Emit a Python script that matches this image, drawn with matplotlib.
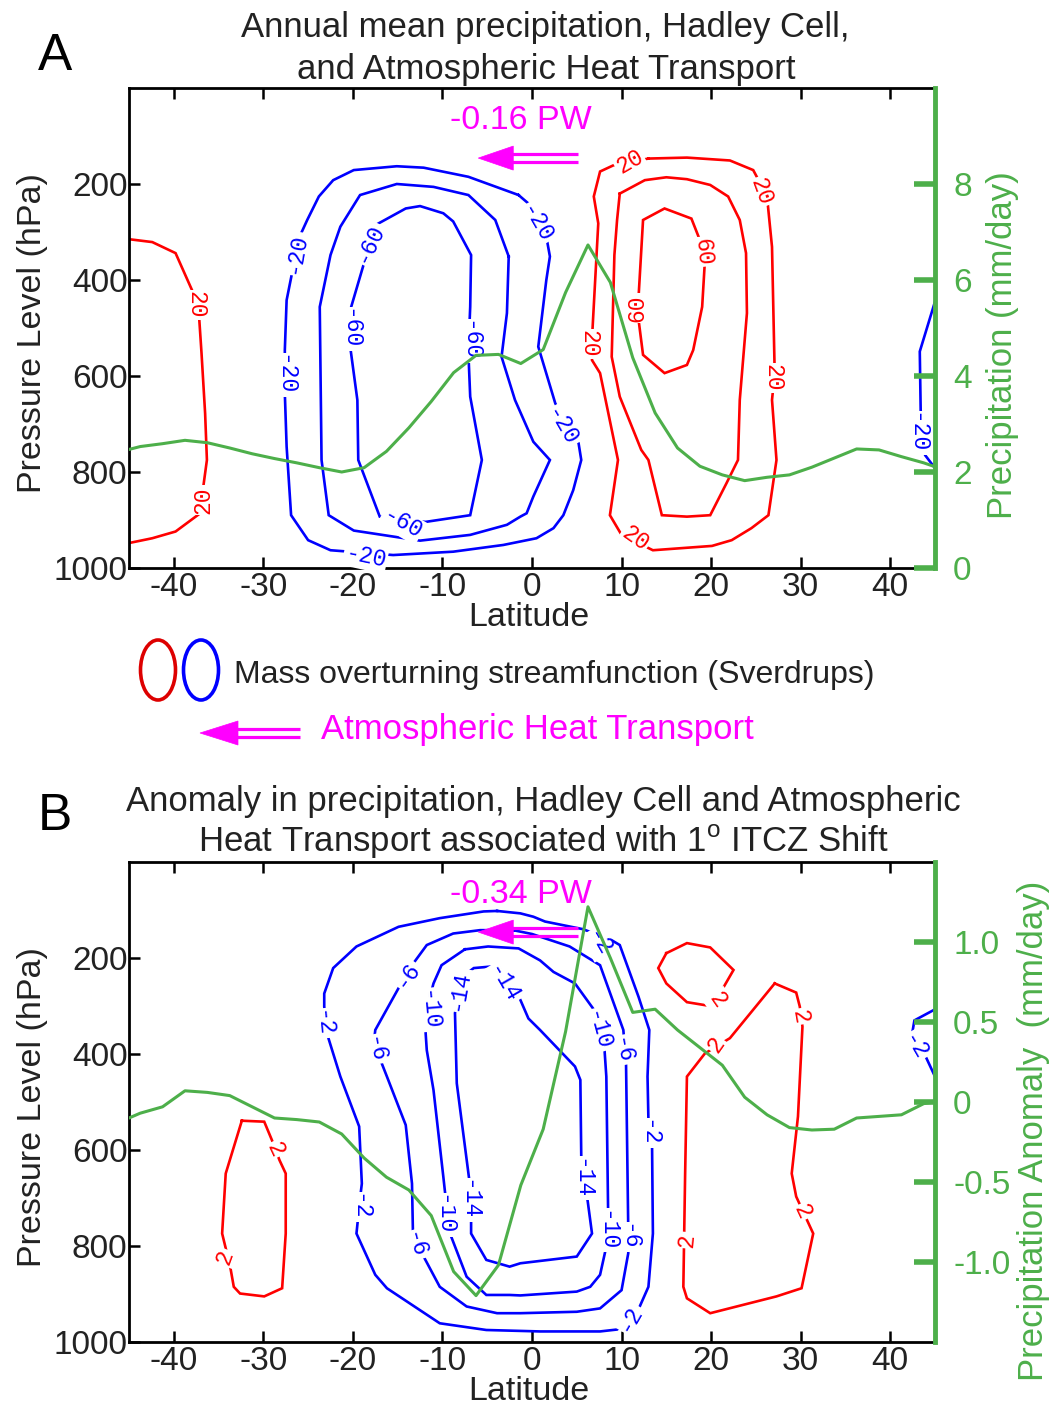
import matplotlib
matplotlib.use('Agg')
import matplotlib.pyplot as plt
import matplotlib.transforms as mtransforms
from matplotlib.patches import Ellipse, Polygon
from matplotlib.lines import Line2D

plt.rcParams['font.family'] = ['Liberation Sans', 'DejaVu Sans']
plt.rcParams['axes.unicode_minus'] = False
plt.rcParams['mathtext.fontset'] = 'custom'
plt.rcParams['mathtext.rm'] = 'Liberation Sans'

# ------------------------------------------------------------------ data
lat_pts = [-45, -43.75, -41.25, -38.75, -36.25, -33.75, -31.25, -28.75, -26.25, -23.75,
           -21.25, -18.75, -16.25, -13.75, -11.25, -8.75, -6.25, -3.75, -1.25, 1.25,
           3.75, 6.25, 8.75, 11.25, 13.75, 16.25, 18.75, 21.25, 23.75, 26.25,
           28.75, 31.25, 33.75, 36.25, 38.75, 41.25, 43.75, 45]
precip_mean = [2.47, 2.53, 2.59, 2.66, 2.61, 2.50, 2.38, 2.28, 2.19, 2.09,
               2.00, 2.09, 2.43, 2.92, 3.47, 4.07, 4.43, 4.45, 4.26, 4.55,
               5.74, 6.73, 5.95, 4.38, 3.23, 2.50, 2.12, 1.94, 1.82, 1.89,
               1.94, 2.10, 2.29, 2.48, 2.46, 2.32, 2.19, 2.11]
precip_anom = [-0.10, -0.07, -0.03, 0.07, 0.06, 0.04, -0.03, -0.10, -0.11, -0.125,
               -0.20, -0.35, -0.47, -0.55, -0.71, -1.06, -1.21, -1.02, -0.52, -0.17,
               0.44, 1.22, 0.90, 0.56, 0.58, 0.45, 0.34, 0.23, 0.03, -0.08,
               -0.16, -0.175, -0.17, -0.10, -0.09, -0.08, -0.01, 0.0]

lat_ticks = [-40, -30, -20, -10, 0, 10, 20, 30, 40]
p_ticks = [200, 400, 600, 800, 1000]
precip_ticks = [0, 2, 4, 6, 8]
anom_ticks = [-1.0, -0.5, 0, 0.5, 1.0]
anom_ticklabels = ['-1.0', '-0.5', '0', '0.5', '1.0']

# Panel A streamfunction contours (latitude, hPa)
A_r20w_lat = [-45.0, -42.4, -39.8, -37.8, -37.2, -36.9, -36.5, -36.3, -36.7, -37.05, -39.8, -42.4, -45.0]
A_r20w_p = [315, 321, 344, 428, 469, 553, 678, 775, 830, 886, 924, 938, 948]
A_r20e_lat = [13.0, 17.3, 22.1, 24.7, 25.3, 26.3, 26.8, 27.1, 26.8, 27.3, 26.4, 24.5, 22.3, 20.1,
              13.5, 10.0, 8.7, 9.6, 7.6, 6.7, 6.7, 7.4, 6.9, 7.6, 9.1, 13.0]
A_r20e_p = [147, 145, 151, 171, 192, 237, 331, 594, 650, 775, 890, 917, 942, 954,
            963, 931, 890, 775, 594, 567, 522, 282, 226, 174, 161, 147]
A_r40e_lat = [9.8, 12.6, 15.0, 17.3, 19.9, 21.9, 23.2, 23.9, 24.0, 23.2, 23.0, 21.7, 19.9, 17.3,
              14.5, 13.0, 12.2, 9.8, 8.9, 9.2, 9.5, 9.8]
A_r40e_p = [220, 192, 186, 190, 202, 226, 275, 344, 469, 650, 775, 824, 890, 893,
            890, 775, 754, 643, 560, 348, 275, 220]
A_r60e_lat = [19.3, 19.0, 18.0, 17.3, 14.8, 12.4, 11.9, 11.9, 12.4, 14.8, 17.8, 18.75, 19.3]
A_r60e_p = [362, 456, 546, 577, 594, 556, 483, 435, 275, 251, 272, 317, 362]
A_b20_lat = [-1.5, -7.1, -12.1, -15.1, -19.9, -22.2, -23.8, -25.1, -26.3, -26.8, -27.4, -27.6,
             -27.6, -27.4, -26.9, -25.0, -22.5, -15.5, -8.8, -3.2, 0.5, 2.4, 3.5, 4.6, 5.5,
             5.2, 4.2, 2.6, 0.7, 1.6, 2.0, 1.6, 0.0, -1.5]
A_b20_p = [223, 185, 166, 163, 171, 192, 226, 275, 324, 386, 442, 546,
           636, 747, 890, 942, 963, 973, 966, 952, 938, 917, 890, 838, 775,
           740, 712, 657, 539, 400, 351, 310, 247, 223]
A_b40_lat = [-2.6, -2.8, -3.4, -1.9, 0.15, 2.0, 0.15, -0.6, -1.3, -2.8, -6.9, -12.5, -19.9,
             -22.7, -23.5, -23.7, -22.5, -21.4, -19.2, -15.1, -11.0, -7.1, -4.1, -2.6]
A_b40_p = [351, 469, 560, 650, 737, 775, 851, 886, 893, 910, 931, 943, 922,
           890, 775, 456, 348, 289, 223, 200, 206, 223, 275, 351]
A_b60_lat = [-18.2, -14.1, -12.5, -9.9, -8.8, -6.8, -6.9, -7.0, -7.1, -6.9, -5.6, -6.9, -11.9,
             -17.0, -19.4, -19.5, -20.3, -20.3, -18.6, -18.2]
A_b60_p = [293, 251, 246, 261, 278, 348, 456, 501, 553, 643, 775, 890, 904,
           893, 775, 650, 539, 463, 355, 293]
A_b20edge_lat = [45.0, 43.3, 43.4, 43.9, 45.0]
A_b20edge_p = [445, 549, 671, 765, 792]

A_lab_lat = [-37.5, -36.7, 10.9, 25.6, 26.9, 11.5, 6.3, 19.1, 11.7,
             -18.2, -20.3, -7.0, -14.5, 0.5, -26.4, -27.6, -18.6, 3.3, 43.0]
A_lab_p = [452, 858, 154, 216, 604, 939, 533, 341, 459,
           324, 502, 527, 907, 282, 345, 598, 977, 706, 719]
A_lab_txt = ['20', '20', '20', '20', '20', '20', '20', '60', '60',
             '-60', '-60', '-60', '-60', '-20', '-20', '-20', '-20', '-20', '-20']
A_lab_sign = [1, 1, 1, 1, 1, 1, 1, 1, 1, -1, -1, -1, -1, -1, -1, -1, -1, -1, -1]
A_lab_rot = [-90, 90, 30, -70, -90, -35, -90, -85, 90,
             65, -90, -90, -30, -60, 80, -90, -12, -60, -90]

# Panel B streamfunction anomaly contours
B_b2_lat = [-3.9, -5.4, -10.3, -14.9, -19.6, -22.2, -23.2, -23.2, -22.9, -21.4, -19.3, -19.0,
            -19.2, -19.6, -17.5, -16.2, -10.3, -5.1, 0.9, 2.4, 7.6, 9.5, 11.7, 13.0, 13.5,
            13.4, 13.0, 12.9, 13.1, 11.9, 9.8, 8.9, 5.7, 1.45, 0.15, -1.3, -3.9]
B_b2_p = [102, 103, 117, 135, 176, 221, 274, 301, 357, 447, 551, 670,
          701, 774, 860, 888, 961, 975, 978, 978, 978, 974, 940, 885, 774,
          579, 537, 447, 350, 281, 173, 163, 140, 124, 114, 107, 102]
B_b6_lat = [-2.1, -5.8, -8.8, -11.75, -13.4, -14.7, -17.5, -17.6, -17.0, -16.2, -14.1, -13.4,
            -13.3, -12.3, -10.3, -7.3, -3.9, -1.3, 5.0, 7.6, 10.0, 10.75, 10.75, 10.5, 10.2,
            7.6, 4.2, 0.0, -2.1]
B_b6_p = [142, 142, 149, 173, 215, 256, 350, 367, 409, 447, 548, 670,
          767, 815, 885, 926, 940, 940, 937, 930, 892, 815, 767, 419, 350,
          215, 176, 150, 142]
B_b10_lat = [-7.5, -10.1, -11.0, -11.3, -11.9, -11.75, -11.0, -9.9, -9.7, -9.3, -7.3, -5.1,
             -2.5, -1.3, 5.0, 6.5, 7.6, 8.3, 8.5, 8.3, 8.1, 7.2, 4.8, 2.4, 0.9, -1.5, -4.9, -7.5]
B_b10_p = [182, 215, 253, 274, 350, 392, 475, 656, 690, 767, 864, 902,
           902, 903, 895, 885, 860, 801, 729, 447, 392, 315, 253, 229, 205, 180, 176, 182]
B_b14_lat = [-1.7, -0.4, 0.9, 4.8, 5.4, 5.5, 6.1, 6.7, 5.0, -1.3, -2.5, -5.1, -6.8, -6.8,
             -7.0, -8.4, -8.6, -8.0, -6.5, -4.7, -1.7]
B_b14_p = [270, 326, 350, 426, 454, 614, 690, 774, 822, 836, 843, 829, 774, 739,
           663, 461, 315, 242, 221, 218, 270]
B_b2edge_lat = [45.0, 42.7, 42.5, 43.5, 45.0]
B_b2edge_p = [307, 330, 352, 387, 447]
B_r2w_lat = [-32.4, -29.9, -29.05, -28.2, -27.5, -27.5, -27.9, -29.9, -32.6, -33.3, -33.7,
             -34.6, -34.2, -32.4]
B_r2w_p = [539, 541, 579, 621, 649, 774, 888, 905, 899, 885, 843, 774, 649, 539]
B_r2n_lat = [15.0, 17.3, 19.9, 22.5, 21.2, 19.9, 17.3, 15.0, 14.1, 15.0]
B_r2n_p = [190, 169, 178, 225, 267, 300, 292, 253, 221, 190]
B_r2e_lat = [27.1, 29.5, 29.9, 30.2, 29.7, 29.0, 29.5, 31.4, 30.1, 27.3, 19.9, 17.3, 16.9,
             17.1, 17.3, 19.3, 22.1, 27.1]
B_r2e_p = [253, 272, 301, 343, 530, 649, 697, 774, 888, 905, 940, 909, 885,
           649, 447, 399, 367, 253]

B_lab_lat = [-23.3, -19.2, 10.9, 13.0, 7.4, 42.7,
             -14.0, -17.5, -13.1, 10.75, 10.0,
             -11.6, -9.8, 8.4, 7.4,
             5.5, -7.1, -8.2, -3.2,
             -28.7, -34.3, 20.7, 29.9, 30.2, 17.3, 20.6]
B_lab_p = [336, 718, 951, 565, 169, 385,
           235, 390, 798, 781, 392,
           308, 735, 767, 350,
           659, 704, 267, 253,
           599, 824, 287, 322, 729, 788, 381]
B_lab_txt = ['-2', '-2', '-2', '-2', '-2', '-2',
             '-6', '-6', '-6', '-6', '-6',
             '-10', '-10', '-10', '-10',
             '-14', '-14', '-14', '-14',
             '2', '2', '2', '2', '2', '2', '2']
B_lab_sign = [-1] * 19 + [1] * 7
B_lab_rot = [-85, -90, 60, -90, -60, -60,
             55, -80, -75, -90, -80,
             -85, -90, -90, -75,
             -90, -90, 80, -60,
             -65, 70, -55, -80, -65, 85, 55]

# heat transport annotations
aht_text = ['-0.16 PW', '-0.34 PW']
aht_tip_lat = -6.0
aht_tail_lat = 5.1
aht_p = 146
aht_text_lat = -1.2
aht_text_p = 68

# ------------------------------------------------------------------ style
RED = '#ff0000'
BLUE = '#0000ff'
GREEN = '#4daf4a'
MAG = '#ff00ff'
TXT = '#222222'
W, H = 1052, 1405

fig = plt.figure(figsize=(W / 100, H / 100), dpi=100)
ax_left = 129 / W
ax_w = (935 - 129) / W
ax_h = (568 - 88) / H
axA = fig.add_axes([ax_left, 1 - 568 / H, ax_w, ax_h])
axB = fig.add_axes([ax_left, 1 - 1342 / H, ax_w, ax_h])


def draw_arrow_px(tip_x, tail_x, y, head_len=35, head_half=12, sep=4.2, lw=2.3, z=6):
    """Leftward double-shaft arrow in display pixels."""
    tri = Polygon([[tip_x, y], [tip_x + head_len, y + head_half], [tip_x + head_len, y - head_half]],
                  closed=True, fc=MAG, ec=MAG, lw=0.5, transform=mtransforms.IdentityTransform(),
                  zorder=z)
    fig.add_artist(tri)
    for dy in (sep, -sep):
        fig.add_artist(Line2D([tip_x + head_len - 4, tail_x], [y + dy, y + dy], color=MAG, lw=lw,
                              transform=mtransforms.IdentityTransform(), zorder=z,
                              solid_capstyle='butt'))


def setup_axes(ax):
    ax.set_xlim(-45, 45)
    ax.set_ylim(1000, 0)
    ax.set_xticks(lat_ticks)
    ax.set_xticklabels([str(v) for v in lat_ticks])
    ax.set_yticks(p_ticks)
    ax.set_yticklabels([str(v) for v in p_ticks])
    ax.tick_params(axis='x', direction='in', top=True, bottom=True, length=8, width=1.8,
                   labelsize=24, pad=3, labelcolor=TXT)
    ax.tick_params(axis='y', direction='in', left=True, right=False, length=8, width=1.8,
                   labelsize=24, pad=1, labelcolor=TXT)
    for s in ['left', 'top', 'bottom']:
        ax.spines[s].set_linewidth(2.0)
        ax.spines[s].set_color('black')
    ax.spines['right'].set_visible(False)
    ax.set_xlabel('Latitude', fontsize=24.5, color=TXT)
    ax.xaxis.set_label_coords(0.496, -0.071)
    ax.set_ylabel('Pressure Level (hPa)', fontsize=24.5, color=TXT)
    ax.yaxis.set_label_coords(-0.1, 0.49)


def contour(ax, lat, p, color):
    ax.plot(lat, p, color=color, lw=1.9, zorder=2, solid_joinstyle='miter')


def labels(ax, lat, p, txt, sign, rot):
    for la, pp, t, s, r in zip(lat, p, txt, sign, rot):
        c = RED if s > 0 else BLUE
        ax.text(la, pp, t, rotation=r, ha='center', va='center', fontsize=16.5,
                family=['Liberation Mono', 'DejaVu Sans Mono'], color=c, zorder=3,
                rotation_mode='anchor',
                bbox=dict(boxstyle='square,pad=0.06', fc='white', ec='none'))


def twin(ax, ylim, ticks, ticklabels, label, label_x, label_y):
    t = ax.twinx()
    t.set_ylim(*ylim)
    t.set_yticks(ticks)
    t.set_yticklabels(ticklabels)
    t.tick_params(axis='y', direction='in', length=15, width=4, color=GREEN,
                  labelcolor=GREEN, labelsize=24, pad=13)
    for s in ['left', 'top', 'bottom']:
        t.spines[s].set_visible(False)
    t.spines['right'].set_color(GREEN)
    t.spines['right'].set_linewidth(3.5)
    t.set_ylabel(label, fontsize=25, color=GREEN)
    t.yaxis.set_label_coords(label_x, label_y)
    return t


# ------------------------------------------------------------------ panel A
setup_axes(axA)
contour(axA, A_r20w_lat, A_r20w_p, RED)
contour(axA, A_r20e_lat, A_r20e_p, RED)
contour(axA, A_r40e_lat, A_r40e_p, RED)
contour(axA, A_r60e_lat, A_r60e_p, RED)
contour(axA, A_b20_lat, A_b20_p, BLUE)
contour(axA, A_b40_lat, A_b40_p, BLUE)
contour(axA, A_b60_lat, A_b60_p, BLUE)
contour(axA, A_b20edge_lat, A_b20edge_p, BLUE)
labels(axA, A_lab_lat, A_lab_p, A_lab_txt, A_lab_sign, A_lab_rot)
axA.text(aht_text_lat, aht_text_p, aht_text[0], color=MAG, fontsize=24.5,
         ha='center', va='center', zorder=6)
tA = twin(axA, (0, 10), precip_ticks, [str(v) for v in precip_ticks],
          'Precipitation (mm/day)', 1.063, 0.465)
tA.plot(lat_pts, precip_mean, color=GREEN, lw=2.2, zorder=4)

# ------------------------------------------------------------------ panel B
setup_axes(axB)
contour(axB, B_b2_lat, B_b2_p, BLUE)
contour(axB, B_b6_lat, B_b6_p, BLUE)
contour(axB, B_b10_lat, B_b10_p, BLUE)
contour(axB, B_b14_lat, B_b14_p, BLUE)
contour(axB, B_b2edge_lat, B_b2edge_p, BLUE)
contour(axB, B_r2w_lat, B_r2w_p, RED)
contour(axB, B_r2n_lat, B_r2n_p, RED)
contour(axB, B_r2e_lat, B_r2e_p, RED)
labels(axB, B_lab_lat, B_lab_p, B_lab_txt, B_lab_sign, B_lab_rot)
axB.text(aht_text_lat, aht_text_p, aht_text[1], color=MAG, fontsize=24.5,
         ha='center', va='center', zorder=6)
tB = twin(axB, (-1.5, 1.5), anom_ticks, anom_ticklabels,
          'Precipitation Anomaly  (mm/day)', 1.102, 0.44)
tB.plot(lat_pts, precip_anom, color=GREEN, lw=2.2, zorder=4)

# ------------------------------------------------------------------ titles / annotations
fig.text(545 / W, 1 - 27 / H, 'Annual mean precipitation, Hadley Cell,', ha='center', va='center',
         fontsize=25, color=TXT)
fig.text(546 / W, 1 - 69 / H, 'and Atmospheric Heat Transport', ha='center', va='center',
         fontsize=25, color=TXT)
fig.text(543 / W, 1 - 801 / H, 'Anomaly in precipitation, Hadley Cell and Atmospheric',
         ha='center', va='center', fontsize=25, color=TXT)
fig.text(543 / W, 1 - 842 / H, r'Heat Transport associated with 1$^{\rm o}$ ITCZ Shift',
         ha='center', va='center', fontsize=25, color=TXT)
fig.text(55 / W, 1 - 70 / H, 'A', ha='center', va='baseline', fontsize=37, color='black')
fig.text(55 / W, 1 - 830 / H, 'B', ha='center', va='baseline', fontsize=37, color='black')

# legend
fig.add_artist(Ellipse((158 / W, 1 - 670 / H), 35 / W, 60 / H, transform=fig.transFigure,
                       fill=False, ec='#dd0000', lw=2.6))
fig.add_artist(Ellipse((201 / W, 1 - 670 / H), 35 / W, 60 / H, transform=fig.transFigure,
                       fill=False, ec=BLUE, lw=2.6))
fig.text(234 / W, 1 - 675 / H, 'Mass overturning streamfunction (Sverdrups)', ha='left',
         va='center', fontsize=23, color=TXT)
fig.text(321 / W, 1 - 730 / H, 'Atmospheric Heat Transport', ha='left', va='center',
         fontsize=25, color=MAG)

fig.canvas.draw()
for ax in (axA, axB):
    tip = ax.transData.transform((aht_tip_lat, aht_p))
    tail = ax.transData.transform((aht_tail_lat, aht_p))
    draw_arrow_px(tip[0], tail[0], tip[1])
draw_arrow_px(200, 300, H - 733, head_len=38)

fig.savefig('out.png', dpi=100)
